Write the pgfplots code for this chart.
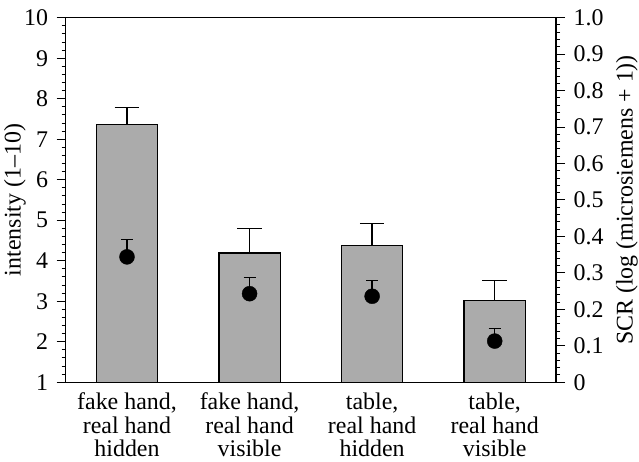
\documentclass[border=0pt]{standalone}
\usepackage{fontspec}
\setmainfont{Liberation Serif}
\usepackage{pgfplots}
\pgfplotsset{compat=1.18}
\usetikzlibrary{calc}
\begin{document}
\fontsize{24}{24.2}\selectfont
\begin{tikzpicture}
\begin{axis}[
  scale only axis,
  width=490.3bp, height=364.6bp,
  xmin=-0.5, xmax=3.5,
  ymin=1, ymax=10,
  ybar, bar width=0.5,
  axis line style={line width=1.3bp},
  xtick={0,1,2,3},
  xticklabels={{fake hand,\\real hand\\hidden},{fake hand,\\real hand\\visible},{table,\\real hand\\hidden},{table,\\real hand\\visible}},
  xticklabel style={align=center, font=\fontsize{24}{23.6}\selectfont, inner sep=0pt, text depth=0pt, yshift=-1.5bp},
  x tick style={draw=none},
  ytick={1,2,...,10},
  minor y tick num=4,
  ytick pos=left,
  tick align=outside,
  major tick length=9bp, minor tick length=4bp,
  y tick style={line width=1bp, black},
  yticklabel style={font=\fontsize{24}{24.2}\selectfont, xshift=-0.5bp},
  /pgf/number format/assume math mode=true,
  ylabel={intensity (1–10)},
  every axis y label/.style={at={(axis description cs:-0.1034,0.5)}, rotate=90, anchor=center, font=\fontsize{24}{24.2}\selectfont},
  error bars/y dir=plus, error bars/y explicit,
  error bars/error mark options={line width=1.3bp, mark size=12.3bp, rotate=90},
  error bars/error bar style={line width=1.3bp},
]
\coordinate (bl) at (rel axis cs:0,0);
\coordinate (tr) at (rel axis cs:1,1);
\addplot[fill=black!33, draw=black, line width=1.3bp] coordinates {
  (0,7.37) +- (0,0.41)
  (1,4.19) +- (0,0.60)
  (2,4.38) +- (0,0.54)
  (3,3.02) +- (0,0.50)
};
\end{axis}
\begin{axis}[
  scale only axis,
  width=490.3bp, height=364.6bp,
  xmin=-0.5, xmax=3.5,
  ymin=0, ymax=1,
  axis x line=none,
  axis y line*=right,
  axis line style={line width=1.3bp},
  ytick={0,0.1,...,1.0},
  yticklabels={0,0.1,0.2,0.3,0.4,0.5,0.6,0.7,0.8,0.9,1.0},
  minor y tick num=4,
  tick align=outside,
  major tick length=9bp, minor tick length=4bp,
  y tick style={line width=1bp, black},
  yticklabel style={font=\fontsize{24}{24.2}\selectfont, xshift=0.5bp},
  /pgf/number format/assume math mode=true,
  ylabel={SCR (log (microsiemens + 1))},
  every axis y label/.style={at={(axis description cs:1.1448,0.5)}, rotate=90, anchor=center, font=\fontsize{24}{24.2}\selectfont},
  error bars/y dir=plus, error bars/y explicit,
  error bars/error mark options={line width=1.3bp, mark size=6bp, rotate=90},
  error bars/error bar style={line width=1.3bp},
]
\addplot[only marks, mark=*, mark size=7.5bp, mark options={fill=black, draw=black}] coordinates {
  (0,0.344) +- (0,0.048)
  (1,0.243) +- (0,0.044)
  (2,0.236) +- (0,0.044)
  (3,0.113) +- (0,0.034)
};
\end{axis}
\pgfresetboundingbox
\path[use as bounding box] ($(bl)+(-65.7bp,-79.7bp)$) rectangle ($(tr)+(83bp,17.7bp)$);
\end{tikzpicture}
\end{document}
